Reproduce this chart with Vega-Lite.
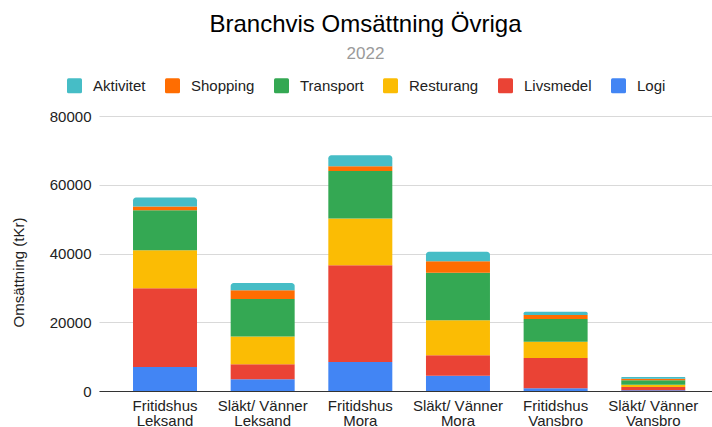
{
  "$schema": "https://vega.github.io/schema/vega-lite/v6.json",
  "width": 613,
  "height": 275,
  "autosize": {"type": "none"},
  "padding": {"left": 99, "top": 116, "right": 0, "bottom": 36},
  "background": "white",
  "title": {
    "text": "Branchvis Omsättning Övriga",
    "subtitle": "2022",
    "anchor": "middle",
    "frame": "group",
    "dx": -40,
    "offset": 16
  },
  "datasets": {
    "branscher": [
      {"bransch": "Logi", "ordning": 1},
      {"bransch": "Livsmedel", "ordning": 2},
      {"bransch": "Resturang", "ordning": 3},
      {"bransch": "Transport", "ordning": 4},
      {"bransch": "Shopping", "ordning": 5},
      {"bransch": "Aktivitet", "ordning": 6}
    ],
    "rader": [
      {"kat": "Fritidshus Leksand", "bransch": "Logi", "v": 7000},
      {"kat": "Fritidshus Leksand", "bransch": "Livsmedel", "v": 22900},
      {"kat": "Fritidshus Leksand", "bransch": "Resturang", "v": 11050},
      {"kat": "Fritidshus Leksand", "bransch": "Transport", "v": 11630},
      {"kat": "Fritidshus Leksand", "bransch": "Shopping", "v": 1080},
      {"kat": "Fritidshus Leksand", "bransch": "Aktivitet", "v": 2620},
      {"kat": "Släkt/ Vänner Leksand", "bransch": "Logi", "v": 3400},
      {"kat": "Släkt/ Vänner Leksand", "bransch": "Livsmedel", "v": 4370},
      {"kat": "Släkt/ Vänner Leksand", "bransch": "Resturang", "v": 8060},
      {"kat": "Släkt/ Vänner Leksand", "bransch": "Transport", "v": 10940},
      {"kat": "Släkt/ Vänner Leksand", "bransch": "Shopping", "v": 2530},
      {"kat": "Släkt/ Vänner Leksand", "bransch": "Aktivitet", "v": 2130},
      {"kat": "Fritidshus Mora", "bransch": "Logi", "v": 8440},
      {"kat": "Fritidshus Mora", "bransch": "Livsmedel", "v": 28140},
      {"kat": "Fritidshus Mora", "bransch": "Resturang", "v": 13590},
      {"kat": "Fritidshus Mora", "bransch": "Transport", "v": 13850},
      {"kat": "Fritidshus Mora", "bransch": "Shopping", "v": 1370},
      {"kat": "Fritidshus Mora", "bransch": "Aktivitet", "v": 3200},
      {"kat": "Släkt/ Vänner Mora", "bransch": "Logi", "v": 4450},
      {"kat": "Släkt/ Vänner Mora", "bransch": "Livsmedel", "v": 5940},
      {"kat": "Släkt/ Vänner Mora", "bransch": "Resturang", "v": 10180},
      {"kat": "Släkt/ Vänner Mora", "bransch": "Transport", "v": 13860},
      {"kat": "Släkt/ Vänner Mora", "bransch": "Shopping", "v": 3310},
      {"kat": "Släkt/ Vänner Mora", "bransch": "Aktivitet", "v": 2800},
      {"kat": "Fritidshus Vansbro", "bransch": "Logi", "v": 790},
      {"kat": "Fritidshus Vansbro", "bransch": "Livsmedel", "v": 8810},
      {"kat": "Fritidshus Vansbro", "bransch": "Resturang", "v": 4750},
      {"kat": "Fritidshus Vansbro", "bransch": "Transport", "v": 6600},
      {"kat": "Fritidshus Vansbro", "bransch": "Shopping", "v": 1170},
      {"kat": "Fritidshus Vansbro", "bransch": "Aktivitet", "v": 960},
      {"kat": "Släkt/ Vänner Vansbro", "bransch": "Logi", "v": 250},
      {"kat": "Släkt/ Vänner Vansbro", "bransch": "Livsmedel", "v": 900},
      {"kat": "Släkt/ Vänner Vansbro", "bransch": "Resturang", "v": 700},
      {"kat": "Släkt/ Vänner Vansbro", "bransch": "Transport", "v": 1300},
      {"kat": "Släkt/ Vänner Vansbro", "bransch": "Shopping", "v": 400},
      {"kat": "Släkt/ Vänner Vansbro", "bransch": "Aktivitet", "v": 550}
    ]
  },
  "data": {"name": "rader"},
  "transform": [
    {"lookup": "bransch", "from": {"data": {"name": "branscher"}, "key": "bransch", "fields": ["ordning"]}},
    {"stack": "v", "groupby": ["kat"], "sort": [{"field": "ordning", "order": "ascending"}], "as": ["y0", "y1"]}
  ],
  "encoding": {
    "x": {
      "field": "kat",
      "type": "nominal",
      "sort": null,
      "scale": {"paddingInner": 0.3447, "paddingOuter": 0.311, "align": 0.56},
      "axis": {
        "title": null,
        "labelAngle": 0,
        "labelExpr": "[substring(datum.label, 0, lastindexof(datum.label, ' ')), substring(datum.label, lastindexof(datum.label, ' ') + 1)]",
        "labelLineHeight": 15,
        "labelPadding": 7,
        "labelOverlap": false,
        "ticks": false,
        "domainColor": "#333333",
        "grid": false
      }
    },
    "y": {
      "field": "y0",
      "type": "quantitative",
      "scale": {"domain": [0, 80000], "nice": false},
      "axis": {
        "title": "Omsättning (tKr)",
        "values": [0, 20000, 40000, 60000, 80000],
        "format": "d",
        "domain": false,
        "ticks": false,
        "labelPadding": 8,
        "titleY": 156,
        "titlePadding": 23
      }
    },
    "y2": {"field": "y1"},
    "color": {
      "field": "bransch",
      "type": "nominal",
      "scale": {
        "domain": ["Aktivitet", "Shopping", "Transport", "Resturang", "Livsmedel", "Logi"],
        "range": ["#46BDC6", "#FF6D01", "#34A853", "#FBBC04", "#EA4335", "#4285F4"]
      },
      "legend": {
        "title": null,
        "orient": "none",
        "direction": "horizontal",
        "legendX": -32,
        "legendY": -38,
        "symbolType": "M-0.8,-1H0.8Q1,-1 1,-0.8V0.8Q1,1 0.8,1H-0.8Q-1,1 -1,0.8V-0.8Q-1,-1 -0.8,-1Z",
        "symbolSize": 225,
        "symbolStrokeWidth": 0,
        "symbolOpacity": 1,
        "labelOffset": 11,
        "columnPadding": 19
      }
    }
  },
  "layer": [
    {
      "transform": [{"filter": "datum.bransch !== 'Aktivitet'"}],
      "mark": {"type": "bar"}
    },
    {
      "transform": [{"filter": "datum.bransch === 'Aktivitet'"}],
      "mark": {"type": "bar", "cornerRadiusTopLeft": 3, "cornerRadiusTopRight": 3}
    }
  ],
  "config": {
    "font": "Liberation Sans",
    "view": {"stroke": null},
    "title": {
      "fontSize": 24,
      "fontWeight": "normal",
      "color": "#000000",
      "subtitleFontSize": 17,
      "subtitleColor": "#9a9a9a",
      "subtitlePadding": 9
    },
    "axis": {
      "labelFont": "Liberation Sans",
      "labelFontSize": 15,
      "labelColor": "#222222",
      "titleFont": "Liberation Sans",
      "titleFontSize": 15,
      "titleFontWeight": "normal",
      "titleColor": "#222222",
      "gridColor": "#d9d9d9",
      "gridWidth": 1
    },
    "legend": {
      "labelFont": "Liberation Sans",
      "labelFontSize": 15,
      "labelColor": "#222222"
    }
  }
}
